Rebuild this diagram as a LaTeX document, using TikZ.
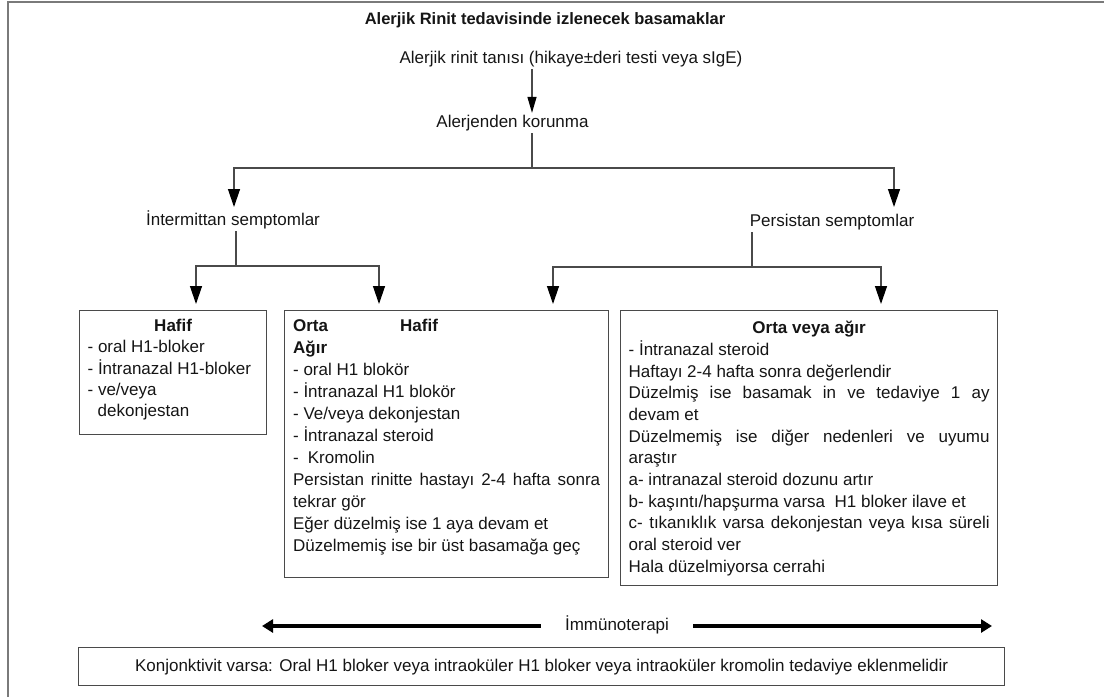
\documentclass[tikz,border=0pt]{standalone}
\usepackage{fontspec}
\setmainfont{Liberation Sans}
\usetikzlibrary{arrows.meta,calc}
\definecolor{ink}{HTML}{151515}
\definecolor{lncol}{HTML}{4A4A4A}
\definecolor{framecol}{HTML}{7A7A7A}
\newcommand\boxtext[4]{\parbox[c][#2][t]{#1}{\fontsize{17}{#3}\selectfont\color{ink}#4}}
\tikzset{
  txt/.style={font=\fontsize{17}{20}\selectfont, text=ink, inner sep=2pt},
  conn/.style={draw=lncol, line width=1.3pt},
  arr/.style={conn, -{Triangle[length=18pt,width=12pt,color=black]}},
  arrs/.style={conn, -{Triangle[length=16pt,width=9pt,color=black]}},
  bigarr/.style={draw=black, line width=4.5pt, -{Triangle[length=11pt,width=13pt]}},
  boxn/.style={draw=lncol, line width=1.3pt, anchor=north west, inner ysep=0pt},
}
\begin{document}
\begin{tikzpicture}[x=1pt,y=-1pt]
\useasboundingbox (0,0) rectangle (1104,697);
% frame
\draw[framecol, line width=2pt] (8,697) -- (8,2) -- (1104,2);

% text nodes
\node[txt, font=\fontsize{16.5}{20}\selectfont\bfseries] (title) at (545,20) {Alerjik Rinit tedavisinde izlenecek basamaklar};
\node[txt] (tani) at (571,59) {Alerjik rinit tanısı (hikaye±deri testi veya sIgE)};
\node[txt] (kor) at (512.5,123) {Alerjenden korunma};
\node[txt] (int) at (233,220) {İntermittan semptomlar};
\node[txt] (per) at (832,222) {Persistan semptomlar};

% boxes
\node[boxn, inner xsep=8pt] (b1) at (79,310) {\boxtext{171pt}{124pt}{21.2pt}{%
\rule{0pt}{21pt}\makebox[\linewidth]{\textbf{Hafif}}\\
- oral H1-bloker\\
- İntranazal H1-bloker\\
- ve/veya\\
\hspace*{10pt}dekonjestan}};

\node[boxn, inner xsep=8.5pt] (b2) at (284,310) {\boxtext{307pt}{267pt}{22pt}{%
\rule{0pt}{21pt}\makebox[107pt][l]{\textbf{Orta}}\textbf{Hafif}\\
\textbf{Ağır}\\
- oral H1 blokör\\
- İntranazal H1 blokör\\
- Ve/veya dekonjestan\\
- İntranazal steroid\\
-\hspace*{9pt}Kromolin\\
\makebox[\linewidth][s]{Persistan rinitte hastayı 2-4 hafta sonra}\\
tekrar gör\\
Eğer düzelmiş ise 1 aya devam et\\
Düzelmemiş ise bir üst basamağa geç}};

\node[boxn, inner xsep=8pt] (b3) at (620,310) {\boxtext{361pt}{275pt}{21.7pt}{%
\rule{0pt}{23pt}\makebox[\linewidth]{\textbf{Orta veya ağır}}\\
- İntranazal steroid\\
Haftayı 2-4 hafta sonra değerlendir\\
\makebox[\linewidth][s]{Düzelmiş ise basamak in ve tedaviye 1 ay}\\
devam et\\
\makebox[\linewidth][s]{Düzelmemiş ise diğer nedenleri ve uyumu}\\
araştır\\
a- intranazal steroid dozunu artır\\
b- kaşıntı/hapşurma varsa\ \ H1 bloker ilave et\\
\makebox[\linewidth][s]{c- tıkanıklık varsa dekonjestan veya kısa süreli}\\
oral steroid ver\\
Hala düzelmiyorsa cerrahi}};

% immunotherapy
\node[txt, inner xsep=24pt] (imm) at (617,625) {İmmünoterapi};
\coordinate (il) at (262,626);
\coordinate (ir) at (992,626);
\draw[bigarr] (imm.west |- il) -- (il);
\draw[bigarr] (imm.east |- ir) -- (ir);

% bottom box
\node[txt, draw=lncol, line width=1.3pt, anchor=north west, minimum width=926pt, minimum height=38pt] (kb) at (78,647)
  {Konjonktivit varsa: Oral H1 bloker veya intraoküler H1 bloker veya intraoküler kromolin tedaviye eklenmelidir};

% connectors
\coordinate (s0) at (532,0);
\draw[arrs] (tani.south -| s0) -- (kor.north -| s0);
\coordinate (j1) at (532,168);
\draw[conn] (kor.south -| j1) -- (j1);
\coordinate (t1) at (234,207);
\coordinate (t2) at (894,207);
\draw[arr] (j1) -| (t1);
\draw[arr] (j1) -| (t2);

\coordinate (j2) at (236,266);
\draw[conn] (int.south -| j2) -- (j2);
\coordinate (t3) at (196,304);
\coordinate (t4) at (379,304);
\draw[arr] (j2) -| (t3);
\draw[arr] (j2) -| (t4);

\coordinate (j3) at (752,267);
\draw[conn] (per.south -| j3) -- (j3);
\coordinate (t5) at (553,304);
\coordinate (t6) at (881,304);
\draw[arr] (j3) -| (t5);
\draw[arr] (j3) -| (t6);
\end{tikzpicture}
\end{document}
